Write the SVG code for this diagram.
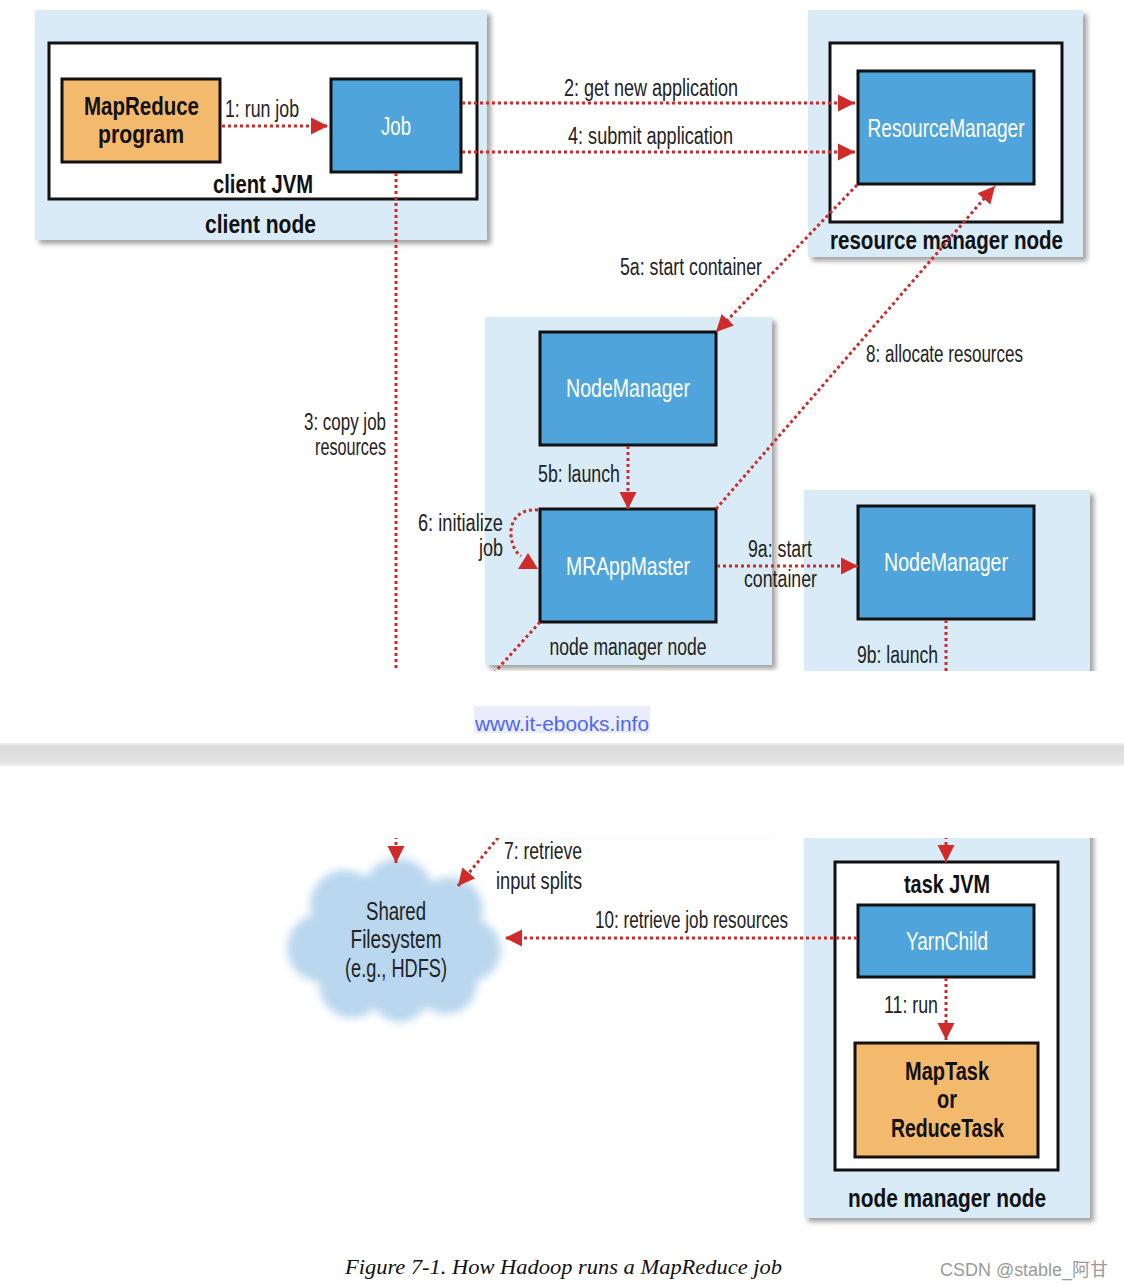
<svg xmlns="http://www.w3.org/2000/svg" width="1124" height="1288" viewBox="0 0 1124 1288">
<defs>
  <style>
    .panel{fill:#d8ebf7;}
    .jvm{fill:#fff;stroke:#111;stroke-width:3;}
    .blue{fill:#4fa5db;stroke:#111;stroke-width:3;}
    .orange{fill:#f3b96c;stroke:#111;stroke-width:3;}
    .dot{fill:none;stroke:#cc2b2b;stroke-width:3;stroke-dasharray:3 3;}
    .ah{fill:#d02a2a;}
    .sans{font-family:"Liberation Sans Narrow","Liberation Sans",Arial,sans-serif;}
    .lbl{font-size:23.5px;fill:#222;}
    .nl{font-size:26px;fill:#fff;text-anchor:middle;}
    .bt{font-size:26px;font-weight:bold;fill:#111;}
    .ct{font-size:25px;fill:#222;text-anchor:middle;}
    .ctn{font-size:23.5px;fill:#222;text-anchor:middle;}
    .link{font-family:"Liberation Sans",Arial,sans-serif;font-size:20px;fill:#5167f2;}
    .cap{font-family:"Liberation Serif","Times New Roman",serif;font-style:italic;font-size:22px;fill:#111;}
    .wm{font-family:"Liberation Sans","Noto Sans CJK SC",sans-serif;font-size:18px;fill:#9a9a9a;}
  </style>
  <filter id="sh" x="-5%" y="-5%" width="115%" height="115%">
    <feDropShadow dx="4" dy="4" stdDeviation="2.5" flood-color="#666" flood-opacity="0.6"/>
  </filter>
  <filter id="blur" x="-20%" y="-20%" width="140%" height="140%">
    <feGaussianBlur stdDeviation="4"/>
  </filter>
  <filter id="blur2" x="-10%" y="-200%" width="120%" height="500%">
    <feGaussianBlur stdDeviation="2"/>
  </filter>
  <marker id="arr" markerUnits="userSpaceOnUse" markerWidth="18" markerHeight="18" refX="17" refY="8.5" orient="auto" viewBox="0 0 18 17">
    <path d="M0,0 L17,8.5 L0,17 z" fill="#d02a2a"/>
  </marker>
  <linearGradient id="band" x1="0" y1="0" x2="0" y2="1">
    <stop offset="0" stop-color="#f2f2f2"/>
    <stop offset="0.15" stop-color="#dcdcdc"/>
    <stop offset="0.85" stop-color="#e3e3e3"/>
    <stop offset="1" stop-color="#f3f3f3"/>
  </linearGradient>
  <clipPath id="topclip"><rect x="0" y="0" width="1124" height="671"/></clipPath>
  <clipPath id="botclip"><rect x="0" y="838" width="1124" height="450"/></clipPath>
</defs>
<rect x="0" y="0" width="1124" height="1288" fill="#fff"/>

<!-- ===== TOP PAGE PART ===== -->
<g clip-path="url(#topclip)" class="sans">
  <g id="client-node">
    <rect class="panel" x="35" y="10" width="452" height="230" filter="url(#sh)"/>
    <rect class="jvm" x="49" y="43" width="428" height="156"/>
    <text class="bt" x="213" y="193" textLength="100" lengthAdjust="spacingAndGlyphs">client JVM</text>
    <text class="bt" x="205" y="233" textLength="111" lengthAdjust="spacingAndGlyphs">client node</text>
  </g>
  <g id="mapreduce-program">
    <rect class="orange" x="62" y="79" width="158" height="83"/>
    <text class="bt" x="84" y="115" textLength="115" lengthAdjust="spacingAndGlyphs">MapReduce</text>
    <text class="bt" x="98" y="143" textLength="86" lengthAdjust="spacingAndGlyphs">program</text>
  </g>
  <g id="job">
    <rect class="blue" x="331" y="79" width="130" height="93"/>
    <text class="nl" x="396" y="135" textLength="30" lengthAdjust="spacingAndGlyphs">Job</text>
  </g>

  <g id="rm-node">
    <rect class="panel" x="808" y="10" width="275" height="247" filter="url(#sh)"/>
    <rect class="jvm" x="830" y="43" width="232" height="179"/>
    <text class="bt" x="830" y="249" textLength="233" lengthAdjust="spacingAndGlyphs">resource manager node</text>
  </g>
  <g id="resource-manager">
    <rect class="blue" x="858" y="71" width="176" height="113"/>
    <text class="nl" x="946" y="137" textLength="157" lengthAdjust="spacingAndGlyphs">ResourceManager</text>
  </g>

  <g id="nm-node-1">
    <rect class="panel" x="485" y="317" width="287" height="348" filter="url(#sh)"/>
    <text class="ctn" x="628" y="655" textLength="157" lengthAdjust="spacingAndGlyphs">node manager node</text>
  </g>
  <g id="node-manager-1">
    <rect class="blue" x="540" y="332" width="176" height="113"/>
    <text class="nl" x="628" y="397" textLength="124" lengthAdjust="spacingAndGlyphs">NodeManager</text>
  </g>
  <g id="mrappmaster">
    <rect class="blue" x="540" y="509" width="176" height="113"/>
    <text class="nl" x="628" y="575" textLength="124" lengthAdjust="spacingAndGlyphs">MRAppMaster</text>
  </g>

  <g id="nm-node-2">
    <rect class="panel" x="804" y="490" width="286" height="200" filter="url(#sh)"/>
  </g>
  <g id="node-manager-2">
    <rect class="blue" x="858" y="506" width="176" height="113"/>
    <text class="nl" x="946" y="571" textLength="124" lengthAdjust="spacingAndGlyphs">NodeManager</text>
  </g>

  <g id="connectors-top">
    <line class="dot" x1="222" y1="126" x2="328" y2="126" marker-end="url(#arr)"/>
    <line class="dot" x1="462" y1="103" x2="855" y2="103" marker-end="url(#arr)"/>
    <line class="dot" x1="462" y1="152" x2="855" y2="152" marker-end="url(#arr)"/>
    <line class="dot" x1="857" y1="185" x2="716" y2="332" marker-end="url(#arr)"/>
    <line class="dot" x1="716" y1="509" x2="995" y2="186" marker-end="url(#arr)"/>
    <line class="dot" x1="628" y1="446" x2="628" y2="509" marker-end="url(#arr)"/>
    <path class="dot" d="M538,510 C518,508 510,522 511,535 C512,545 515,552 521,556"/>
    <polygon class="ah" points="528,553 518,569 538,569"/>
    <line class="dot" x1="717" y1="566" x2="858" y2="566" marker-end="url(#arr)"/>
    <line class="dot" x1="396" y1="173" x2="396" y2="671"/>
    <line class="dot" x1="946" y1="620" x2="946" y2="671"/>
    <line class="dot" x1="540" y1="622" x2="494" y2="673"/>

    <text class="lbl" x="225" y="117" textLength="74" lengthAdjust="spacingAndGlyphs">1: run job</text>
    <text class="lbl" x="564" y="96" textLength="174" lengthAdjust="spacingAndGlyphs">2: get new application</text>
    <text class="lbl" x="568" y="144" textLength="165" lengthAdjust="spacingAndGlyphs">4: submit application</text>
    <text class="lbl" x="620" y="275" textLength="142" lengthAdjust="spacingAndGlyphs">5a: start container</text>
    <text class="lbl" x="866" y="362" textLength="157" lengthAdjust="spacingAndGlyphs">8: allocate resources</text>
    <text class="lbl" x="538" y="482" textLength="82" lengthAdjust="spacingAndGlyphs">5b: launch</text>
    <text class="lbl" x="418" y="531" textLength="85" lengthAdjust="spacingAndGlyphs">6: initialize</text>
    <text class="lbl" x="479" y="556" textLength="24" lengthAdjust="spacingAndGlyphs">job</text>
    <text class="lbl" x="304" y="430" textLength="82" lengthAdjust="spacingAndGlyphs">3: copy job</text>
    <text class="lbl" x="315" y="455" textLength="71" lengthAdjust="spacingAndGlyphs">resources</text>
    <text class="lbl" x="748" y="557" textLength="64" lengthAdjust="spacingAndGlyphs">9a: start</text>
    <text class="lbl" x="744" y="587" textLength="73" lengthAdjust="spacingAndGlyphs">container</text>
    <text class="lbl" x="857" y="663" textLength="81" lengthAdjust="spacingAndGlyphs">9b: launch</text>
  </g>
</g>

<!-- ===== PAGE BREAK ===== -->
<rect x="474" y="706" width="176" height="27" fill="#e9edfb"/>
<text class="link" x="475" y="731" textLength="174" lengthAdjust="spacingAndGlyphs">www.it-ebooks.info</text>
<rect x="0" y="743" width="1124" height="23" fill="url(#band)"/>

<!-- ===== BOTTOM PAGE PART ===== -->
<g clip-path="url(#botclip)" class="sans">
  <rect x="485" y="826" width="287" height="10" fill="#888" opacity="0.55" filter="url(#blur2)"/>
  <g id="task-node">
    <rect class="panel" x="804" y="820" width="286" height="398" filter="url(#sh)"/>
    <rect class="jvm" x="835" y="862" width="223" height="308"/>
    <text class="bt" x="904" y="893" textLength="86" lengthAdjust="spacingAndGlyphs">task JVM</text>
    <text class="bt" x="848" y="1207" textLength="198" lengthAdjust="spacingAndGlyphs">node manager node</text>
  </g>
  <g id="yarnchild">
    <rect class="blue" x="858" y="905" width="176" height="72"/>
    <text class="nl" x="947" y="950" textLength="82" lengthAdjust="spacingAndGlyphs">YarnChild</text>
  </g>
  <g id="task">
    <rect class="orange" x="855" y="1043" width="183" height="114"/>
    <text class="bt" x="905" y="1080" textLength="84" lengthAdjust="spacingAndGlyphs">MapTask</text>
    <text class="bt" x="937" y="1108" textLength="20" lengthAdjust="spacingAndGlyphs">or</text>
    <text class="bt" x="891" y="1137" textLength="113" lengthAdjust="spacingAndGlyphs">ReduceTask</text>
  </g>
  <g id="shared-filesystem">
    <g fill="#b9d7ee" filter="url(#blur)">
      <ellipse cx="395" cy="942" rx="92" ry="62"/>
      <circle cx="345" cy="905" r="35"/>
      <circle cx="398" cy="893" r="35"/>
      <circle cx="450" cy="910" r="33"/>
      <circle cx="321" cy="948" r="34"/>
      <circle cx="470" cy="950" r="31"/>
      <circle cx="352" cy="985" r="33"/>
      <circle cx="400" cy="993" r="29"/>
      <circle cx="446" cy="983" r="31"/>
    </g>
    <text class="ct" x="396" y="920" textLength="60" lengthAdjust="spacingAndGlyphs">Shared</text>
    <text class="ct" x="396" y="948" textLength="91" lengthAdjust="spacingAndGlyphs">Filesystem</text>
    <text class="ct" x="396" y="977" textLength="102" lengthAdjust="spacingAndGlyphs">(e.g., HDFS)</text>
  </g>
  <g id="connectors-bottom">
    <line class="dot" x1="396" y1="836" x2="396" y2="863" marker-end="url(#arr)"/>
    <line class="dot" x1="502" y1="833" x2="458" y2="886" marker-end="url(#arr)"/>
    <line class="dot" x1="946" y1="836" x2="946" y2="862" marker-end="url(#arr)"/>
    <line class="dot" x1="857" y1="938" x2="505" y2="938" marker-end="url(#arr)"/>
    <line class="dot" x1="946" y1="978" x2="946" y2="1040" marker-end="url(#arr)"/>
    <text class="lbl" x="504" y="859" textLength="78" lengthAdjust="spacingAndGlyphs">7: retrieve</text>
    <text class="lbl" x="496" y="889" textLength="86" lengthAdjust="spacingAndGlyphs">input splits</text>
    <text class="lbl" x="595" y="928" textLength="193" lengthAdjust="spacingAndGlyphs">10: retrieve job resources</text>
    <text class="lbl" x="884" y="1013" textLength="54" lengthAdjust="spacingAndGlyphs">11: run</text>
  </g>
</g>

<text class="cap" x="345" y="1274" textLength="437" lengthAdjust="spacingAndGlyphs">Figure 7-1. How Hadoop runs a MapReduce job</text>
<text class="wm" x="940" y="1276" textLength="168" lengthAdjust="spacingAndGlyphs">CSDN @stable_阿甘</text>
</svg>
